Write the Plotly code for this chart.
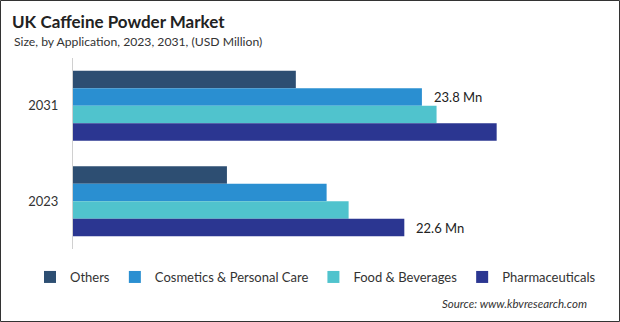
import plotly.graph_objects as go

# Market size by application, USD million
years = ["2031", "2023"]
series_names = ["Others", "Cosmetics & Personal Care", "Food & Beverages", "Pharmaceuticals"]
others = [15.2, 10.5]
cosmetics = [23.8, 17.3]
food = [24.8, 18.8]
pharma = [28.9, 22.6]
colors = ["#2d4e72", "#2a8fd1", "#50c3cd", "#2b3691"]

W, H = 620, 322
L, R, T, B = 73, 20, 58, 73
pw, ph = W - L - R, H - T - B

def px_x(p):
    return (p - L) / pw

def px_y(p):
    return (H - B - p) / ph

FONT = "Lato"

fig = go.Figure()
for name, vals, col in zip(series_names, [others, cosmetics, food, pharma], colors):
    fig.add_trace(go.Bar(
        y=years, x=vals, name=name, orientation="h",
        marker=dict(color=col, line=dict(width=0)),
    ))

# value callouts next to selected bars (y given as category index, shifted onto the bar)
callouts = [(0, cosmetics[0], 8.75), (1, pharma[1], -26.5)]
annotations = []
for yi, v, dy in callouts:
    annotations.append(dict(
        x=v, y=yi, xref="x", yref="y", text=f"{v} Mn", showarrow=False,
        xanchor="left", xshift=10, yshift=dy,
        font=dict(family=FONT, size=13, color="#222"),
    ))

annotations.append(dict(
    x=px_x(12), y=px_y(42), xref="paper", yref="paper", xanchor="left", yanchor="middle",
    text="Size, by Application, 2023, 2031, (USD Million)", showarrow=False,
    font=dict(family=FONT, size=12.2, color="#333"),
))
annotations.append(dict(
    x=px_x(589), y=px_y(303), xref="paper", yref="paper", xanchor="right", yanchor="middle",
    text="<i>Source: www.kbvresearch.com</i>", showarrow=False,
    font=dict(family=FONT, size=11.5, color="#333"),
))

fig.update_layout(
    width=W, height=H,
    margin=dict(l=L, r=R, t=T, b=B, autoexpand=False),
    paper_bgcolor="white", plot_bgcolor="white",
    barmode="group", bargap=0.265, bargroupgap=0,
    title=dict(text="<b>UK Caffeine Powder Market</b>", xref="container", yref="container",
               x=12 / W, y=1 - 22 / H, xanchor="left", yanchor="middle",
               font=dict(family=FONT, size=17, color="#222")),
    xaxis=dict(range=[0, pw / 14.66], visible=False, fixedrange=True),
    yaxis=dict(type="category", categoryorder="array", categoryarray=years,
               range=[1.5, -0.5], showline=True, linecolor="#d0d0d0", linewidth=1,
               ticks="", showgrid=False, ticklabelstandoff=11,
               tickfont=dict(family=FONT, size=13, color="#333")),
    legend=dict(orientation="h", x=px_x(30), xanchor="left",
                y=px_y(277), yanchor="middle",
                font=dict(family=FONT, size=13, color="#333")),
    showlegend=True,
    annotations=annotations,
    shapes=[dict(type="rect", xref="paper", yref="paper",
                 x0=px_x(0.5), x1=px_x(W - 0.5), y0=px_y(H - 0.5), y1=px_y(0.5),
                 line=dict(color="#333", width=1), fillcolor="rgba(0,0,0,0)", layer="above")],
)

fig.write_html("out.html")
